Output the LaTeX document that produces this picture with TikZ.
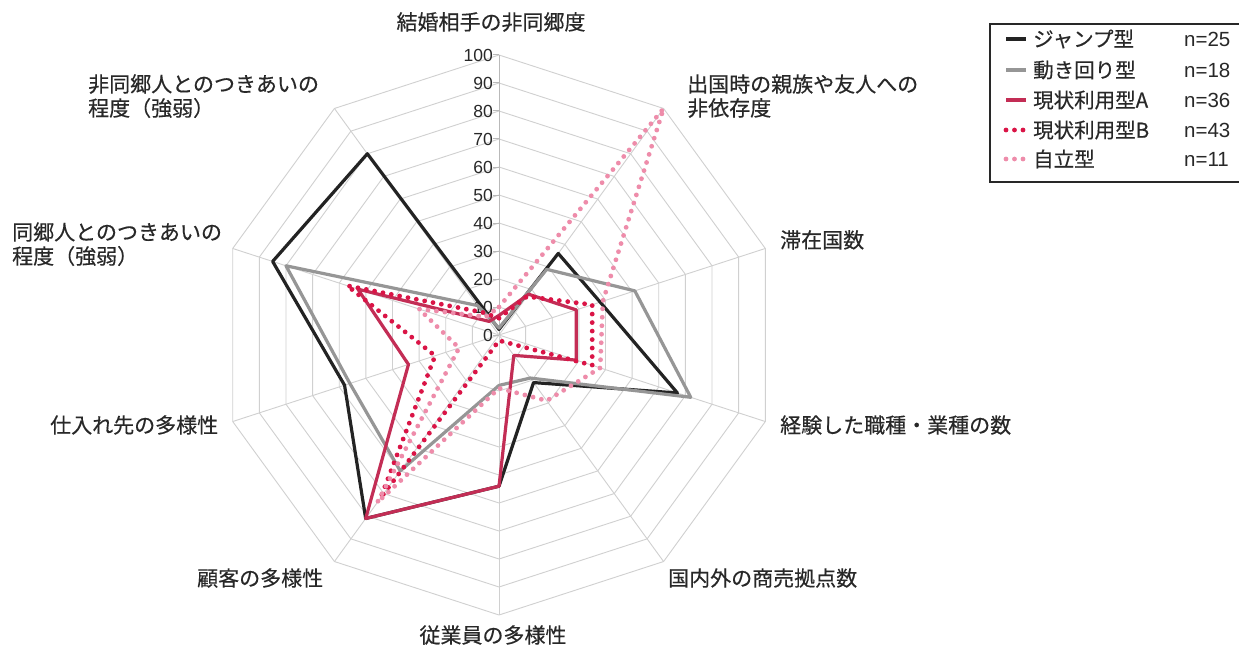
\documentclass[tikz,border=0pt]{standalone}
\usepackage{fontspec}
\usetikzlibrary{calc}
\setmainfont{Liberation Sans}
\newfontfamily\jp[FakeBold=0.4]{Noto Sans CJK JP}
\definecolor{gridgray}{RGB}{208,208,208}
\definecolor{axisgray}{RGB}{185,185,185}
\definecolor{labgray}{RGB}{40,40,40}
\definecolor{cjump}{RGB}{35,35,35}
\definecolor{cugoki}{RGB}{150,150,150}
\definecolor{cgena}{RGB}{195,45,85}
\definecolor{cgenb}{RGB}{218,20,70}
\definecolor{cjiri}{RGB}{238,140,170}
\begin{document}
\begin{tikzpicture}[x=1pt,y=-1pt,
  ring/.style={draw=gridgray,line width=0.9pt},
  spoke/.style={draw=gridgray,line width=0.9pt},
  axiszero/.style={draw=axisgray,line width=1pt},
  ser/.style={line width=3.2pt,line join=round},
  jump/.style={ser,draw=cjump},
  ugoki/.style={ser,draw=cugoki},
  gena/.style={ser,draw=cgena},
  dotline/.style={line width=4.8pt,line cap=round,dash pattern=on 0pt off 8.5pt},
  genb/.style={dotline,draw=cgenb},
  jiri/.style={dotline,draw=cjiri},
  axlab/.style={font=\jp\fontsize{21}{24}\selectfont,text=labgray,inner sep=0pt},
  ticklab/.style={font=\fontsize{17.5}{18}\selectfont,text=labgray,inner sep=0pt,anchor=east},
  legtext/.style={font=\jp\fontsize{20.5}{22}\selectfont,text=labgray,inner sep=0pt,anchor=west},
  legn/.style={font=\fontsize{20.5}{22}\selectfont,text=labgray,inner sep=0pt,anchor=west},
  legbox/.style={draw=labgray,line width=1.2pt}
]
\useasboundingbox (0,0) rectangle (1239,650);
\fill[white] (0,0) rectangle (1239,650);
\coordinate (O) at (499,335);

% rings
\foreach \r in {28,56,...,280} {
  \draw[ring] ({499},{335-\r}) \foreach \k in {1,...,9} { -- ({499+\r*sin(36*\k)},{335-\r*cos(36*\k)}) } -- cycle;
}
% spokes
\foreach \k in {1,...,9} {
  \coordinate (E\k) at ({499+280*sin(36*\k)},{335-280*cos(36*\k)});
  \draw[spoke] (O) -- (E\k);
}
\coordinate (E0) at (499,55);
\draw[axiszero] (O) -- (E0);
% ticks and labels
\foreach \lab [count=\i from 0] in {0,10,...,100} {
  \coordinate (T\i) at ({499},{335-28*\i});
  \draw[axiszero] ($(T\i)+(-6,0)$) -- (T\i);
  \node[ticklab] (tl\i) at ({493},{335-28*\i}) {\lab};
}

% data points
\foreach \k/\v in {0/2,1/36,2/38,3/67,4/21,5/54,6/81,7/58,8/85,9/80}
  \coordinate (J\k) at ({499+2.8*\v*sin(36*\k)},{335-2.8*\v*cos(36*\k)});
\foreach \k/\v in {0/2.5,1/29,2/51,3/72,4/19,5/18,6/60,7/56,8/80,9/13}
  \coordinate (U\k) at ({499+2.8*\v*sin(36*\k)},{335-2.8*\v*cos(36*\k)});
\foreach \k/\v in {0/7,1/18,2/29,3/29,4/9,5/54,6/81,7/34,8/53,9/6}
  \coordinate (A\k) at ({499+2.8*\v*sin(36*\k)},{335-2.8*\v*cos(36*\k)});
\foreach \k/\v in {0/6,1/17,2/35,3/35,4/3,5/2,6/72,7/24,8/57,9/10}
  \coordinate (B\k) at ({499+2.8*\v*sin(36*\k)},{335-2.8*\v*cos(36*\k)});
\foreach \k/\v in {0/10,1/100,2/39,3/38,4/29,5/19,6/74,7/15,8/30,9/8}
  \coordinate (S\k) at ({499+2.8*\v*sin(36*\k)},{335-2.8*\v*cos(36*\k)});

\draw[jump] (J0) -- (J1) -- (J2) -- (J3) -- (J4) -- (J5) -- (J6) -- (J7) -- (J8) -- (J9) -- cycle;
\draw[ugoki] (U0) -- (U1) -- (U2) -- (U3) -- (U4) -- (U5) -- (U6) -- (U7) -- (U8) -- (U9) -- cycle;
\draw[gena] (A0) -- (A1) -- (A2) -- (A3) -- (A4) -- (A5) -- (A6) -- (A7) -- (A8) -- (A9) -- cycle;
\draw[genb] (B0) -- (B1) -- (B2) -- (B3) -- (B4) -- (B5) -- (B6) -- (B7) -- (B8) -- (B9) -- cycle;
\draw[jiri] (S0) -- (S1) -- (S2) -- (S3) -- (S4) -- (S5) -- (S6) -- (S7) -- (S8) -- (S9) -- cycle;

% axis labels
\node[axlab] (L0) at (491,22) {結婚相手の非同郷度};
\node[axlab,anchor=west] (L1a) at (687,84) {出国時の親族や友人への};
\node[axlab,anchor=west] (L1b) at (687,108) {非依存度};
\node[axlab,anchor=west] (L2) at (780,240) {滞在国数};
\node[axlab,anchor=west] (L3) at (780,425) {経験した職種・業種の数};
\node[axlab,anchor=west] (L4) at (668,578) {国内外の商売拠点数};
\node[axlab] (L5) at (493,635) {従業員の多様性};
\node[axlab,anchor=west] (L6) at (197,578) {顧客の多様性};
\node[axlab,anchor=west] (L7) at (50,425) {仕入れ先の多様性};
\node[axlab,anchor=west] (L8a) at (12,232) {同郷人とのつきあいの};
\node[axlab,anchor=west] (L8b) at (12,256) {程度（強弱）};
\node[axlab,anchor=west] (L9a) at (88,84) {非同郷人とのつきあいの};
\node[axlab,anchor=west] (L9b) at (88,108) {程度（強弱）};

% legend
\draw[legbox] (990,24) rectangle (1250,182);
\foreach \st/\name/\n/\y [count=\i] in {jump/ジャンプ型/25/39, ugoki/動き回り型/18/70, gena/現状利用型A/36/100, genb/現状利用型B/43/130, jiri/自立型/11/159} {
  \coordinate (ls\i) at (1006,\y);
  \coordinate (le\i) at (1026,\y);
  \draw[\st] (ls\i) -- (le\i);
  \node[legtext] (lt\i) at (1033,\y) {\name};
  \node[legn] (ln\i) at (1184,\y) {n=\n};
}
\end{tikzpicture}
\end{document}
